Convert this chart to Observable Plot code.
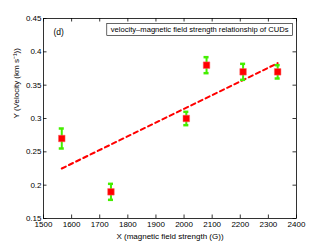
<!DOCTYPE html>
<html><head><meta charset="utf-8">
<script src="https://cdn.jsdelivr.net/npm/d3@7"></script>
<script src="https://cdn.jsdelivr.net/npm/@observablehq/plot@0.6"></script>
<style>body{margin:0;background:#fff}svg{font-family:"Liberation Sans",Arial,sans-serif}</style>
</head><body><div id="c"></div>
<script>
const fieldStrength = [1565, 1740, 2008, 2080, 2210, 2333];
const velocity = [0.27, 0.19, 0.30, 0.38, 0.37, 0.37];
const velocityErr = [0.015, 0.012, 0.01, 0.012, 0.012, 0.01];
const fitX = [1565, 2333];
const fitY = [0.225, 0.383];
const xTicks = [1500,1600,1700,1800,1900,2000,2100,2200,2300,2400];
const yTicks = [0.15,0.2,0.25,0.3,0.35,0.4,0.45];

const pts = fieldStrength.map((x,i)=>({x, y: velocity[i], e: velocityErr[i]}));
const fit = fitX.map((x,i)=>({x, y: fitY[i]}));
const tl = 3.5, yl = tl/200*0.3, xl = tl/253*900;
const legendText = "velocity\u2013magnetic field strength relationship of CUDs";

const plot = Plot.plot({
  width: 327, height: 246,
  marginLeft: 43, marginRight: 31, marginTop: 18, marginBottom: 28,
  style: {fontFamily: '"Liberation Sans",Arial,sans-serif', fontSize: "8px", background: "#fff"},
  x: {domain: [1500, 2400], label: null},
  y: {domain: [0.15, 0.45], label: null},
  marks: [
    Plot.axisX({ticks: xTicks, tickFormat: d=>String(d), tickSize: 0, tickPadding: 3, fontSize: 8, label: null}),
    Plot.axisY({ticks: yTicks, tickFormat: d=>String(+d.toFixed(2)), tickSize: 0, tickPadding: 2, fontSize: 8, label: null}),
    Plot.ruleX(xTicks, {x: d=>d, y1: 0.15, y2: 0.15+yl, stroke: "#000", strokeWidth: 0.8}),
    Plot.ruleX(xTicks, {x: d=>d, y1: 0.45, y2: 0.45-yl, stroke: "#000", strokeWidth: 0.8}),
    Plot.ruleY(yTicks, {y: d=>d, x1: 1500, x2: 1500+xl, stroke: "#000", strokeWidth: 0.8}),
    Plot.ruleY(yTicks, {y: d=>d, x1: 2400, x2: 2400-xl, stroke: "#000", strokeWidth: 0.8}),
    Plot.line(fit, {x: "x", y: "y", stroke: "#ff0000", strokeWidth: 2, strokeDasharray: "4.5,3.5"}),
    Plot.ruleX(pts, {x: "x", y1: d=>d.y-d.e, y2: d=>d.y+d.e, stroke: "#44ee00", strokeWidth: 2}),
    Plot.ruleY(pts, {y: d=>d.y+d.e, x1: d=>d.x-9, x2: d=>d.x+9, stroke: "#44ee00", strokeWidth: 2.5}),
    Plot.ruleY(pts, {y: d=>d.y-d.e, x1: d=>d.x-9, x2: d=>d.x+9, stroke: "#44ee00", strokeWidth: 2.5}),
    Plot.dot(pts, {x: "x", y: "y", symbol: "square", r: 3.7, fill: "#ff0000", stroke: "#ff6060", strokeWidth: 0.5}),
    Plot.text(["(d)"], {frameAnchor: "top-left", dx: 10, dy: 10, fontSize: 8.5, textAnchor: "start"}),
    Plot.text([legendText], {frameAnchor: "top-right", dx: -8, dy: 8, fontSize: 7.6, textAnchor: "end"}),
    Plot.frame({stroke: "#000", strokeWidth: 0.8}),
    Plot.text(["X (magnetic field strength (G))"], {frameAnchor: "bottom", lineAnchor: "middle", dy: 17.5, fontSize: 8}),
    Plot.text(["Y (Velocity (km s\u207B\u00B9))"], {frameAnchor: "left", dx: -27, rotate: -90, fontSize: 8})
  ]
});
document.getElementById("c").appendChild(plot);
const t = Array.from(plot.querySelectorAll("text")).find(e => e.textContent === legendText);
if (t) {
  const b = t.getBBox();
  const r = document.createElementNS("http://www.w3.org/2000/svg", "rect");
  r.setAttribute("x", b.x - 4); r.setAttribute("y", b.y - 1.5);
  r.setAttribute("width", b.width + 8); r.setAttribute("height", b.height + 3);
  r.setAttribute("fill", "#fff"); r.setAttribute("stroke", "#000"); r.setAttribute("stroke-width", "0.6");
  if (t.getAttribute("transform")) r.setAttribute("transform", t.getAttribute("transform"));
  t.parentNode.insertBefore(r, t);
}
</script></body></html>
